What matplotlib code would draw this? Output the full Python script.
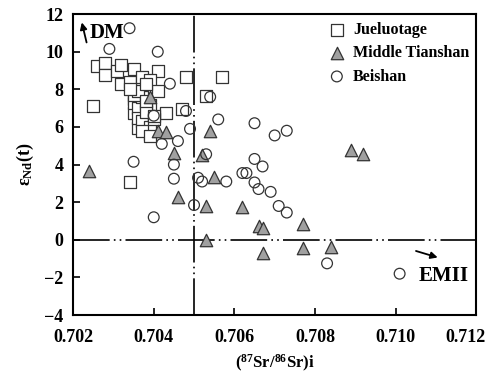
""" Sr-Nd isotope diagram """
import matplotlib
matplotlib.use("Agg")
import matplotlib.pyplot as plt
import matplotlib.transforms as mtransforms

plt.rcParams["font.family"] = ["Liberation Serif", "DejaVu Serif"]
plt.rcParams["font.weight"] = "bold"
plt.rcParams["mathtext.fontset"] = "custom"
plt.rcParams["mathtext.rm"] = "Liberation Serif:bold"
plt.rcParams["mathtext.it"] = "Liberation Serif:bold"
plt.rcParams["mathtext.bf"] = "Liberation Serif:bold"

# Jueluotage (squares)
jue_sr = [0.7025, 0.7026, 0.7028, 0.7028, 0.7031, 0.7032, 0.7035, 0.7041,
          0.7032, 0.7034, 0.7037, 0.7039, 0.7041, 0.7048, 0.7057, 0.7053,
          0.7036, 0.7035, 0.7036, 0.7039, 0.7043, 0.7047, 0.7039, 0.7034,
          0.7035, 0.7035, 0.7036, 0.7037, 0.7038, 0.7036, 0.7037, 0.7038,
          0.7039, 0.7040, 0.7035, 0.7036, 0.7038, 0.7040, 0.7037, 0.7034,
          0.7038, 0.7039]
jue_nd = [7.1, 9.25, 9.4, 8.75, 8.95, 9.3, 9.1, 9.0,
          8.3, 8.4, 8.65, 8.5, 7.9, 8.65, 8.65, 7.65,
          7.8, 6.75, 5.95, 5.65, 6.75, 6.95, 7.15, 3.1,
          7.5, 7.3, 7.0, 7.6, 7.2, 6.5, 6.3, 6.8,
          6.0, 6.4, 7.7, 7.9, 7.4, 6.6, 5.8, 8.0,
          8.3, 5.5]

# Middle Tianshan (triangles)
mts_sr = [0.7024, 0.7039, 0.7041, 0.7043, 0.7045, 0.7046, 0.7054, 0.7052,
          0.7055, 0.7053, 0.7053, 0.7062, 0.7066, 0.7067, 0.7067, 0.7077,
          0.7077, 0.7084, 0.7089, 0.7092]
mts_nd = [3.65, 7.6, 5.8, 5.75, 4.6, 2.3, 5.8, 4.5,
          3.35, 1.8, 0.0, 1.75, 0.75, 0.65, -0.7, 0.85,
          -0.45, -0.4, 4.8, 4.55]

# Beishan (circles)
bei_sr = [0.7034, 0.7029, 0.7041, 0.7044, 0.7048, 0.7049, 0.7054, 0.7056,
          0.7065, 0.7070, 0.7073, 0.7042, 0.7046, 0.7035, 0.7045, 0.7045,
          0.7040, 0.7050, 0.7051, 0.7052, 0.7053, 0.7058, 0.7062, 0.7063,
          0.7065, 0.7067, 0.7065, 0.7066, 0.7069, 0.7071, 0.7073, 0.7083,
          0.7101, 0.7040]
bei_nd = [11.25, 10.15, 10.0, 8.3, 6.85, 5.9, 7.6, 6.4,
          6.2, 5.55, 5.8, 5.1, 5.25, 4.15, 4.0, 3.25,
          1.2, 1.85, 3.3, 3.1, 4.55, 3.1, 3.55, 3.55,
          4.3, 3.9, 3.05, 2.7, 2.55, 1.8, 1.45, -1.25,
          -1.8, 6.6]

x_ticks = [0.702, 0.704, 0.706, 0.708, 0.710, 0.712]
y_ticks = [-4, -2, 0, 2, 4, 6, 8, 10, 12]

fig = plt.figure(figsize=(4.94, 3.81), dpi=100)
ax = fig.add_axes([0.148, 0.173, 0.816, 0.79])

dashdotdot = (0, (22, 2.5, 1, 2.5, 1, 2.5))
ax.axvline(0.705, color="black", lw=1.2, linestyle=dashdotdot, zorder=1)
ax.axhline(0, color="black", lw=1.2, linestyle=dashdotdot, zorder=1)

ax.scatter(jue_sr, jue_nd, marker="s", s=70, facecolors="white",
           edgecolors="#333333", linewidths=0.9, label="Jueluotage", zorder=3)
ax.scatter(mts_sr, mts_nd, marker="^", s=80, facecolors="#a0a0a0",
           edgecolors="#333333", linewidths=0.9, label="Middle Tianshan",
           zorder=4)
ax.scatter(bei_sr, bei_nd, marker="o", s=60, facecolors="none",
           edgecolors="#333333", linewidths=0.9, label="Beishan", zorder=5)

ax.set_xlim(0.702, 0.712)
ax.set_ylim(-4, 12)
ax.set_xticks(x_ticks)
ax.set_xticklabels([f"{t:.3f}" for t in x_ticks])
ax.set_yticks(y_ticks)
ax.tick_params(direction="in", length=5, width=1.2, labelsize=13)
ax.tick_params(axis="x", pad=10)
ax.tick_params(axis="y", pad=7)
for s in ax.spines.values():
    s.set_linewidth(1.5)

# last x label is nudged left so it stays inside the figure
last = ax.get_xticklabels()[-1]
last.set_transform(last.get_transform() + mtransforms.ScaledTranslation(
    -0.11, 0, fig.dpi_scale_trans))

ax.set_xlabel(r"$\mathrm{(^{87}Sr/^{86}Sr)i}$", fontsize=12, labelpad=5)
ax.set_ylabel(r"$\mathrm{\varepsilon_{Nd}(t)}$", fontsize=13, labelpad=6)

# end-member annotations
ax.annotate("", xy=(0.70220, 11.7), xytext=(0.70235, 10.35),
            arrowprops=dict(arrowstyle="-|>", color="black", lw=1.3,
                            mutation_scale=10))
ax.text(0.70242, 11.0, "DM", fontsize=15, fontweight="bold", va="center")
ax.annotate("", xy=(0.71111, -0.98), xytext=(0.71044, -0.55),
            arrowprops=dict(arrowstyle="-|>", color="black", lw=1.3,
                            mutation_scale=10))
ax.text(0.71058, -1.9, "EMII", fontsize=15, fontweight="bold", va="center")

ax.legend(loc="upper right", bbox_to_anchor=(1.01, 1.01), frameon=False,
          fontsize=11.5, handletextpad=0.4, borderaxespad=0.3,
          labelspacing=0.45, handlelength=1.2, scatterpoints=1)

fig.savefig("out.png", dpi=100)
